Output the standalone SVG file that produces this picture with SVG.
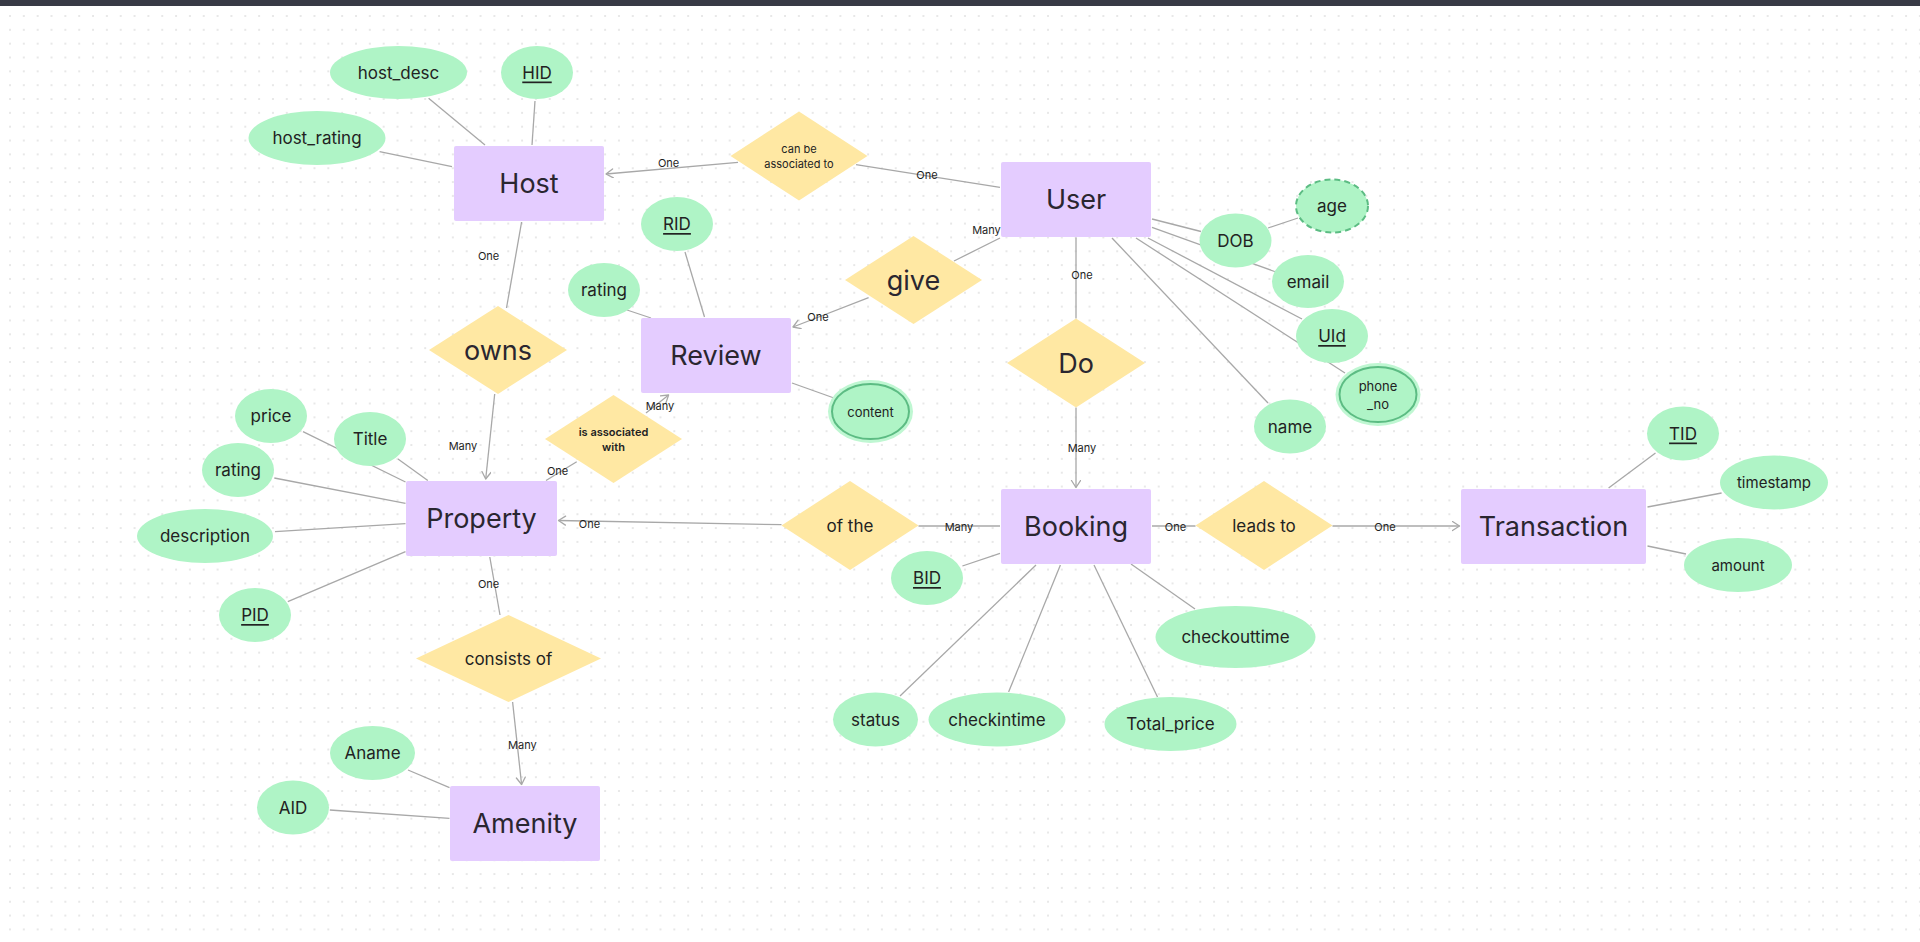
<svg xmlns="http://www.w3.org/2000/svg" width="1920" height="942" viewBox="0 0 1920 942">
<defs>
<pattern id="dots" width="13.84" height="13.84" patternUnits="userSpaceOnUse" x="8" y="14">
<circle cx="2" cy="2" r="0.8" fill="#c9c9c9"/>
</pattern>
<marker id="arr" markerUnits="userSpaceOnUse" markerWidth="12" markerHeight="12" refX="8" refY="5" orient="auto">
<path d="M1,0.5 L8,5 L1,9.5" fill="none" stroke="#a8a8a8" stroke-width="1.3" stroke-linecap="round" stroke-linejoin="round"/>
</marker>
<style>
.ent{fill:#e4ccff;}
.rel{fill:#ffe8a3;}
.att{fill:#aff4c6;}
.halo{fill:#bff7d2;}
.multi{fill:#aff4c6;stroke:#5cbc83;stroke-width:2;}
.derived{fill:#aff4c6;stroke:#5cbc83;stroke-width:2;stroke-dasharray:6 4;}
text{font-family:Inter,"Noto Sans","Liberation Sans",sans-serif;fill:#222;text-anchor:middle;dominant-baseline:central;}
.et{font-size:27px;fill:#2a2630;}
.rt{font-size:27px;fill:#2a2630;}
.rm{font-size:17px;}
.rs{font-size:11px;}
.rb{font-size:11px;font-weight:600;}
.at{font-size:17px;}
.am{font-size:15px;}
.as{font-size:13px;}
.key{text-decoration:underline;}
.lbl{font-size:11px;fill:#1e1e1e;}
#connectors line{stroke:#a8a8a8;stroke-width:1.3;fill:none;}
</style>
</defs>
<rect x="0" y="0" width="1920" height="942" fill="#ffffff"/>
<rect x="0" y="0" width="1920" height="942" fill="url(#dots)"/>
<rect x="0" y="0" width="1920" height="6" fill="#383a45"/>

<g id="connectors">
<!-- Host attributes -->
<line x1="428.6" y1="98.3" x2="485" y2="145"/>
<line x1="535" y1="101" x2="532" y2="145"/>
<line x1="379.6" y1="151.7" x2="452" y2="166.7"/>
<!-- Host - owns - Property -->
<line x1="521.6" y1="222" x2="506.5" y2="308"/>
<line x1="494.7" y1="394" x2="485.7" y2="479" marker-end="url(#arr)"/>
<!-- can be associated to -->
<line x1="738" y1="162.3" x2="606" y2="174" marker-end="url(#arr)"/>
<line x1="856" y1="164.7" x2="1000" y2="187.3"/>
<!-- User - give - Review -->
<line x1="1000" y1="238" x2="954" y2="261"/>
<line x1="868.6" y1="297.7" x2="793" y2="327" marker-end="url(#arr)"/>
<!-- Review attributes -->
<line x1="685" y1="252" x2="704.5" y2="317"/>
<line x1="627" y1="310" x2="651" y2="318"/>
<line x1="792" y1="383" x2="834" y2="398"/>
<!-- is associated with -->
<line x1="646" y1="413" x2="668.6" y2="395" marker-end="url(#arr)"/>
<line x1="576.7" y1="461.7" x2="546" y2="480.5"/>
<!-- Property - consists of - Amenity -->
<line x1="489.8" y1="557" x2="500" y2="615"/>
<line x1="512.6" y1="702" x2="521.6" y2="784.5" marker-end="url(#arr)"/>
<!-- Booking - of the - Property -->
<line x1="781.5" y1="524.7" x2="558.5" y2="520.5" marker-end="url(#arr)"/>
<line x1="918.5" y1="526" x2="1000" y2="526"/>
<!-- Booking - leads to - Transaction -->
<line x1="1152" y1="526" x2="1195.5" y2="526"/>
<line x1="1332.5" y1="526" x2="1459.5" y2="526" marker-end="url(#arr)"/>
<!-- User - Do - Booking -->
<line x1="1076" y1="237.5" x2="1076" y2="318.5"/>
<line x1="1076" y1="407.5" x2="1076" y2="487.5" marker-end="url(#arr)"/>
<!-- User attributes -->
<line x1="1152" y1="219" x2="1201" y2="231.5"/>
<line x1="1152" y1="227.3" x2="1276" y2="272"/>
<line x1="1148" y1="238" x2="1302" y2="319"/>
<line x1="1136" y1="238" x2="1345" y2="373"/>
<line x1="1112" y1="238" x2="1268" y2="403"/>
<line x1="1268" y1="228" x2="1298" y2="218"/>
<!-- Booking attributes -->
<line x1="962.4" y1="566" x2="1000" y2="553.3"/>
<line x1="1036" y1="565" x2="900" y2="696"/>
<line x1="1060.4" y1="565" x2="1008.6" y2="692"/>
<line x1="1094" y1="565" x2="1157.5" y2="697"/>
<line x1="1131" y1="564" x2="1195" y2="609"/>
<!-- Transaction attributes -->
<line x1="1655.5" y1="453" x2="1608.6" y2="488"/>
<line x1="1647.5" y1="507" x2="1721.6" y2="493"/>
<line x1="1647.5" y1="546" x2="1686" y2="554"/>
<!-- Property attributes -->
<line x1="303" y1="431.7" x2="405.5" y2="482"/>
<line x1="398" y1="459" x2="427.8" y2="480.5"/>
<line x1="274.3" y1="478" x2="405.5" y2="503.3"/>
<line x1="275" y1="531.7" x2="405.5" y2="523.7"/>
<line x1="287.8" y1="601.7" x2="405.5" y2="551.7"/>
<!-- Amenity attributes -->
<line x1="408" y1="770" x2="449.5" y2="787.7"/>
<line x1="329.8" y1="810" x2="449.5" y2="818.3"/>
<!-- cardinality labels -->
<text class="lbl" x="488.6" y="256">One</text>
<text class="lbl" x="463" y="446">Many</text>
<text class="lbl" x="668.6" y="163">One</text>
<text class="lbl" x="927" y="174.7">One</text>
<text class="lbl" x="986.5" y="230">Many</text>
<text class="lbl" x="818" y="317">One</text>
<text class="lbl" x="660" y="406">Many</text>
<text class="lbl" x="557.6" y="470.7">One</text>
<text class="lbl" x="488.6" y="584">One</text>
<text class="lbl" x="522.4" y="745">Many</text>
<text class="lbl" x="589.5" y="524">One</text>
<text class="lbl" x="959" y="526.7">Many</text>
<text class="lbl" x="1175.5" y="526.7">One</text>
<text class="lbl" x="1385" y="526.7">One</text>
<text class="lbl" x="1082" y="275">One</text>
<text class="lbl" x="1082" y="447.7">Many</text>
</g>

<!-- Entities -->
<g id="host"><rect class="ent" x="454" y="146" width="150" height="75" rx="2"/><text class="et" x="529" y="183.5">Host</text></g>
<g id="user"><rect class="ent" x="1001" y="162" width="150" height="75" rx="2"/><text class="et" x="1076" y="199.5">User</text></g>
<g id="review"><rect class="ent" x="641" y="318" width="150" height="75" rx="2"/><text class="et" x="716" y="355.5">Review</text></g>
<g id="property"><rect class="ent" x="406" y="481" width="151" height="75" rx="2"/><text class="et" x="481.5" y="518.5">Property</text></g>
<g id="booking"><rect class="ent" x="1001" y="489" width="150" height="75" rx="2"/><text class="et" x="1076" y="526.5">Booking</text></g>
<g id="transaction"><rect class="ent" x="1461" y="489" width="185" height="75" rx="2"/><text class="et" x="1553.5" y="526.5">Transaction</text></g>
<g id="amenity"><rect class="ent" x="450" y="786" width="150" height="75" rx="2"/><text class="et" x="525" y="823.5">Amenity</text></g>

<!-- Relationships -->
<g id="rel-can-be-associated-to"><polygon class="rel" points="730.5,156 799,111.5 867.5,156 799,200.5"/><text class="rs" x="799" y="149">can be</text><text class="rs" x="799" y="164">associated to</text></g>
<g id="rel-give"><polygon class="rel" points="845,280 913.5,236 982,280 913.5,324"/><text class="rt" x="913.5" y="280">give</text></g>
<g id="rel-owns"><polygon class="rel" points="429,350 498,306 567,350 498,394"/><text class="rt" x="498" y="350">owns</text></g>
<g id="rel-is-associated-with"><polygon class="rel" points="545,439 613.5,395 682,439 613.5,483"/><text class="rb" x="613.5" y="432">is associated</text><text class="rb" x="613.5" y="447">with</text></g>
<g id="rel-do"><polygon class="rel" points="1007,363 1076,318.5 1145,363 1076,407.5"/><text class="rt" x="1076" y="363">Do</text></g>
<g id="rel-of-the"><polygon class="rel" points="781.5,525.5 850,481 918.5,525.5 850,570"/><text class="rm" x="850" y="525.5">of the</text></g>
<g id="rel-leads-to"><polygon class="rel" points="1195.5,525.5 1264,481 1332.5,525.5 1264,570"/><text class="rm" x="1264" y="525.5">leads to</text></g>
<g id="rel-consists-of"><polygon class="rel" points="416,658.5 508.5,615 601,658.5 508.5,702"/><text class="rm" x="508.5" y="658.5">consists of</text></g>

<!-- Attributes -->
<g id="att-host-desc"><ellipse class="att" cx="398.5" cy="72.5" rx="68.5" ry="26.5"/><text class="at" x="398.5" y="72.5">host_desc</text></g>
<g id="att-hid"><ellipse class="att" cx="537" cy="72.5" rx="36" ry="26.5"/><text class="at key" x="537" y="72.5">HID</text></g>
<g id="att-host-rating"><ellipse class="att" cx="317" cy="138" rx="68.5" ry="27"/><text class="at" x="317" y="138">host_rating</text></g>
<g id="att-review-rating"><ellipse class="att" cx="604" cy="290" rx="36" ry="27"/><text class="at" x="604" y="290">rating</text></g>
<g id="att-rid"><ellipse class="att" cx="677" cy="224" rx="36" ry="27"/><text class="at key" x="677" y="224">RID</text></g>
<g id="att-content"><ellipse class="halo" cx="870.5" cy="411.5" rx="42.5" ry="31.5"/><ellipse class="multi" cx="870.5" cy="411.5" rx="38.5" ry="27.5"/><text class="as" x="870.5" y="411.5">content</text></g>
<g id="att-dob"><ellipse class="att" cx="1235.5" cy="240.5" rx="36" ry="27"/><text class="at" x="1235.5" y="240.5">DOB</text></g>
<g id="att-age"><ellipse class="derived" cx="1332" cy="206" rx="36" ry="26.5"/><text class="at" x="1332" y="206">age</text></g>
<g id="att-email"><ellipse class="att" cx="1308" cy="281.5" rx="36" ry="26.5"/><text class="at" x="1308" y="281.5">email</text></g>
<g id="att-uid"><ellipse class="att" cx="1332" cy="336" rx="36" ry="27"/><text class="at key" x="1332" y="336">UId</text></g>
<g id="att-phone-no"><ellipse class="halo" cx="1378" cy="394.5" rx="42.5" ry="31.5"/><ellipse class="multi" cx="1378" cy="394.5" rx="38.5" ry="27.5"/><text class="as" x="1378" y="386">phone</text><text class="as" x="1378" y="404">_no</text></g>
<g id="att-name"><ellipse class="att" cx="1290" cy="426.5" rx="36" ry="27"/><text class="at" x="1290" y="426.5">name</text></g>
<g id="att-price"><ellipse class="att" cx="271" cy="416" rx="36" ry="27"/><text class="at" x="271" y="416">price</text></g>
<g id="att-title"><ellipse class="att" cx="370" cy="439" rx="36" ry="27"/><text class="at" x="370" y="439">Title</text></g>
<g id="att-property-rating"><ellipse class="att" cx="238" cy="470" rx="36" ry="27"/><text class="at" x="238" y="470">rating</text></g>
<g id="att-description"><ellipse class="att" cx="205" cy="536" rx="68" ry="27"/><text class="at" x="205" y="536">description</text></g>
<g id="att-pid"><ellipse class="att" cx="255" cy="615" rx="36" ry="27"/><text class="at key" x="255" y="615">PID</text></g>
<g id="att-aname"><ellipse class="att" cx="372.5" cy="753" rx="42.5" ry="27"/><text class="at" x="372.5" y="753">Aname</text></g>
<g id="att-aid"><ellipse class="att" cx="293" cy="807.5" rx="36" ry="27"/><text class="at" x="293" y="807.5">AID</text></g>
<g id="att-bid"><ellipse class="att" cx="927" cy="578" rx="36" ry="27"/><text class="at key" x="927" y="578">BID</text></g>
<g id="att-checkouttime"><ellipse class="att" cx="1235.5" cy="637" rx="80" ry="31"/><text class="at" x="1235.5" y="637">checkouttime</text></g>
<g id="att-status"><ellipse class="att" cx="875.5" cy="719.5" rx="42.5" ry="27"/><text class="at" x="875.5" y="719.5">status</text></g>
<g id="att-checkintime"><ellipse class="att" cx="997" cy="719.5" rx="68.5" ry="27"/><text class="at" x="997" y="719.5">checkintime</text></g>
<g id="att-total-price"><ellipse class="att" cx="1170.5" cy="724" rx="66" ry="27"/><text class="at" x="1170.5" y="724">Total_price</text></g>
<g id="att-tid"><ellipse class="att" cx="1683" cy="433.5" rx="36" ry="27"/><text class="at key" x="1683" y="433.5">TID</text></g>
<g id="att-timestamp"><ellipse class="att" cx="1774" cy="482.5" rx="54" ry="27"/><text class="am" x="1774" y="482.5">timestamp</text></g>
<g id="att-amount"><ellipse class="att" cx="1738" cy="565" rx="54" ry="27"/><text class="am" x="1738" y="565">amount</text></g>
</svg>
